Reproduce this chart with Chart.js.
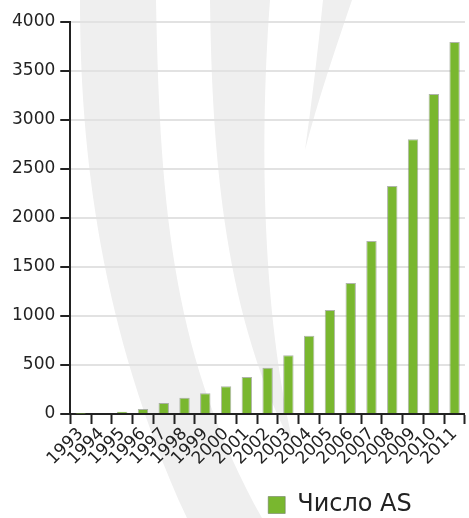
<!DOCTYPE html>
<html>
<head>
<meta charset="utf-8">
<script src="https://cdn.jsdelivr.net/npm/chart.js@4"></script>
<style>
  html, body { margin: 0; padding: 0; background: #ffffff; }
  #wrap { width: 469px; height: 518px; }
</style>
</head>
<body>
<div id="wrap"><canvas id="c" width="469" height="518"></canvas></div>
<script>
const years = ["1993","1994","1995","1996","1997","1998","1999","2000","2001","2002",
               "2003","2004","2005","2006","2007","2008","2009","2010","2011"];
const asCounts = [2, 8, 24, 51, 111, 166, 211, 283, 378, 473,
                  599, 798, 1060, 1336, 1765, 2327, 2803, 3265, 3796];
const seriesLabel = "Число AS";
const yTicks = [0, 500, 1000, 1500, 2000, 2500, 3000, 3500, 4000];

const FONT = "'DejaVu Sans', 'Liberation Sans', Arial, sans-serif";

const watermark = {
  id: 'watermark',
  beforeDraw(chart) {
    const ctx = chart.ctx;
    ctx.save();
    ctx.fillStyle = '#efefef';
    ctx.beginPath();
    ctx.moveTo(80, 0);
    ctx.bezierCurveTo(80, 150, 100, 330, 187, 518);
    ctx.lineTo(262, 518);
    ctx.bezierCurveTo(175, 360, 160, 220, 156, 0);
    ctx.closePath();
    ctx.fill();
    ctx.beginPath();
    ctx.moveTo(210, 0);
    ctx.bezierCurveTo(212, 160, 225, 320, 295, 450);
    ctx.bezierCurveTo(265, 330, 258, 160, 270, 0);
    ctx.closePath();
    ctx.fill();
    ctx.beginPath();
    ctx.moveTo(323, 0);
    ctx.bezierCurveTo(318, 50, 312, 100, 305, 150);
    ctx.bezierCurveTo(318, 100, 335, 50, 352, 0);
    ctx.closePath();
    ctx.fill();
    ctx.restore();
  }
};

const legendShift = {
  id: 'legendShift',
  afterLayout(chart) {
    const lg = chart.legend;
    if (!lg) return;
    const dx = 102, dy = 12;
    lg.left += dx;
    lg.right += dx;
    lg.top += dy;
    lg.bottom += dy;
    if (lg.legendHitBoxes) lg.legendHitBoxes.forEach(h => { h.left += dx; h.top += dy; });
  }
};

new Chart(document.getElementById('c'), {
  type: 'bar',
  data: {
    labels: years,
    datasets: [{
      label: seriesLabel,
      data: asCounts,
      backgroundColor: '#79b72f',
      borderColor: 'rgba(110,120,100,0.55)',
      borderWidth: 1,
      barPercentage: 0.5,
      categoryPercentage: 1.0
    }]
  },
  options: {
    responsive: false,
    animation: false,
    layout: { padding: { left: 7, right: 0, top: 22, bottom: 3 } },
    plugins: {
      legend: {
        position: 'bottom',
        align: 'center',
        labels: {
          boxWidth: 17,
          boxHeight: 17,
          padding: 12,
          color: '#222',
          font: { family: FONT, size: 24 }
        }
      },
      tooltip: { enabled: false }
    },
    scales: {
      x: {
        offset: true,
        grid: {
          offset: true,
          drawOnChartArea: false,
          drawTicks: true,
          tickLength: 10,
          tickColor: '#222',
          tickWidth: 2
        },
        border: { display: true, color: '#222', width: 2 },
        ticks: {
          autoSkip: false,
          minRotation: 45,
          maxRotation: 45,
          padding: 0,
          color: '#222',
          font: { family: FONT, size: 17 }
        }
      },
      y: {
        min: 0,
        max: 4000,
        afterBuildTicks(axis) { axis.ticks = yTicks.map(v => ({ value: v })); },
        grid: {
          color: '#e2e2e2',
          lineWidth: 2,
          drawTicks: true,
          tickLength: 10,
          tickColor: '#222',
          tickWidth: 2
        },
        border: { display: true, color: '#222', width: 2 },
        ticks: {
          padding: 5,
          color: '#222',
          font: { family: FONT, size: 17 },
          callback: (v) => String(v)
        }
      }
    }
  },
  plugins: [watermark, legendShift]
});
</script>
</body>
</html>
